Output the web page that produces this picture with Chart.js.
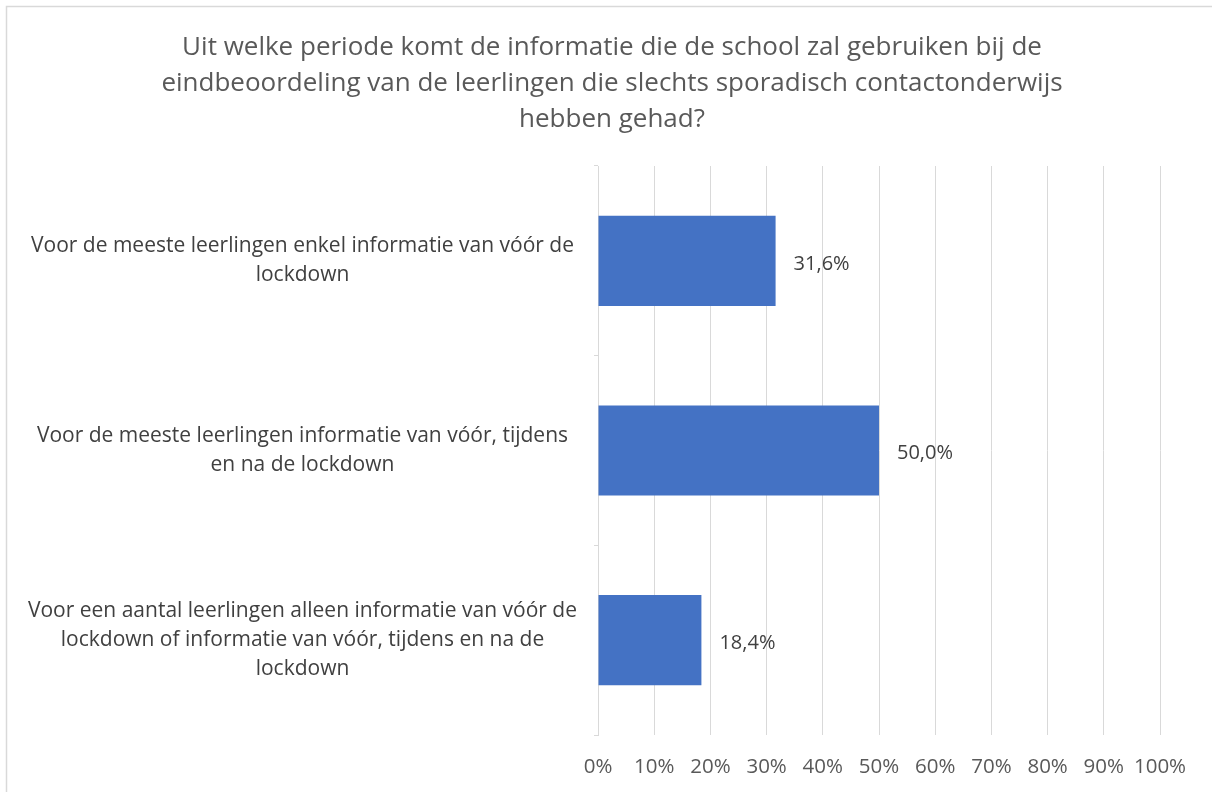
<!DOCTYPE html>
<html>
<head>
<meta charset="utf-8">
<script src="https://cdn.jsdelivr.net/npm/chart.js@4"></script>
<style>
  html, body { margin: 0; padding: 0; background: #fff; }
  #wrap { width: 1212px; height: 792px; }
</style>
</head>
<body>
<div id="wrap"><canvas id="chart"></canvas></div>
<script>
// Data
const categories = [
    ['Voor de meeste leerlingen enkel informatie van vóór de', 'lockdown'],
    ['Voor de meeste leerlingen informatie van vóór, tijdens', 'en na de lockdown'],
    ['Voor een aantal leerlingen alleen informatie van vóór de', 'lockdown of informatie van vóór, tijdens en na de', 'lockdown']
]
const percentages = [31.6, 50.0, 18.4]
const titleLines = [
    'Uit welke periode komt de informatie die de school zal gebruiken bij de',
    'eindbeoordeling van de leerlingen die slechts sporadisch contactonderwijs',
    'hebben gehad?'
]

const FONT = "'Open Sans', 'Noto Sans', sans-serif"
const TEXT = '#595959'
const GRID = '#d9d9d9'

// Kader (alleen boven- en linkerrand zichtbaar)
const borderPlugin = {
    id: 'frame',
    beforeDraw(chart) {
        const ctx = chart.ctx
        ctx.save()
        ctx.strokeStyle = GRID
        ctx.lineWidth = 1.5
        ctx.beginPath()
        ctx.moveTo(6.5, chart.height)
        ctx.lineTo(6.5, 6.5)
        ctx.lineTo(chart.width, 6.5)
        ctx.stroke()
        ctx.restore()
    }
}

// Titel, gecentreerd over de hele grafiek
const titlePlugin = {
    id: 'centerTitle',
    afterDraw(chart) {
        const ctx = chart.ctx
        ctx.save()
        ctx.font = '26px ' + FONT
        ctx.fillStyle = TEXT
        ctx.textAlign = 'center'
        ctx.textBaseline = 'middle'
        titleLines.forEach((line, i) => ctx.fillText(line, 612, 48 + i * 36))
        ctx.restore()
    }
}

// Waardelabels naast de balken
const valueLabels = {
    id: 'valueLabels',
    afterDatasetsDraw(chart) {
        const ctx = chart.ctx
        ctx.save()
        ctx.font = '20px ' + FONT
        ctx.fillStyle = '#404040'
        ctx.textAlign = 'left'
        ctx.textBaseline = 'middle'
        chart.getDatasetMeta(0).data.forEach((bar, i) => {
            const txt = percentages[i].toFixed(1).replace('.', ',') + '%'
            ctx.fillText(txt, bar.x + 18, bar.y + 3)
        })
        ctx.restore()
    }
}

new Chart(document.getElementById('chart'), {
    type: 'bar',
    data: {
        labels: categories,
        datasets: [{
            data: percentages,
            backgroundColor: '#4472C4',
            borderWidth: 0,
            categoryPercentage: 1,
            barPercentage: 0.475
        }]
    },
    options: {
        indexAxis: 'y',
        responsive: true,
        maintainAspectRatio: false,
        animation: false,
        layout: { padding: { left: 8, right: 52, top: 166, bottom: 12 } },
        plugins: {
            legend: { display: false },
            tooltip: { enabled: false },
            title: { display: false }
        },
        scales: {
            x: {
                min: 0,
                max: 100,
                afterFit: scale => { scale.height = 45 },
                ticks: {
                    stepSize: 10,
                    color: TEXT,
                    padding: 20,
                    maxRotation: 0,
                    minRotation: 0,
                    autoSkip: false,
                    font: { family: FONT, size: 20.5 },
                    callback: v => v + '%'
                },
                grid: { color: GRID, drawTicks: false },
                border: { display: false }
            },
            y: {
                afterFit: scale => {
                    scale.width = 590
                    scale.paddingTop = 0
                    scale.paddingBottom = 0
                },
                ticks: {
                    color: '#404040',
                    crossAlign: 'center',
                    padding: 17,
                    font: { family: FONT, size: 21, lineHeight: 1.38 }
                },
                grid: { drawOnChartArea: false, color: GRID, tickLength: 4, offset: true },
                border: { display: true, color: GRID }
            }
        }
    },
    plugins: [borderPlugin, titlePlugin, valueLabels]
})
</script>
</body>
</html>
